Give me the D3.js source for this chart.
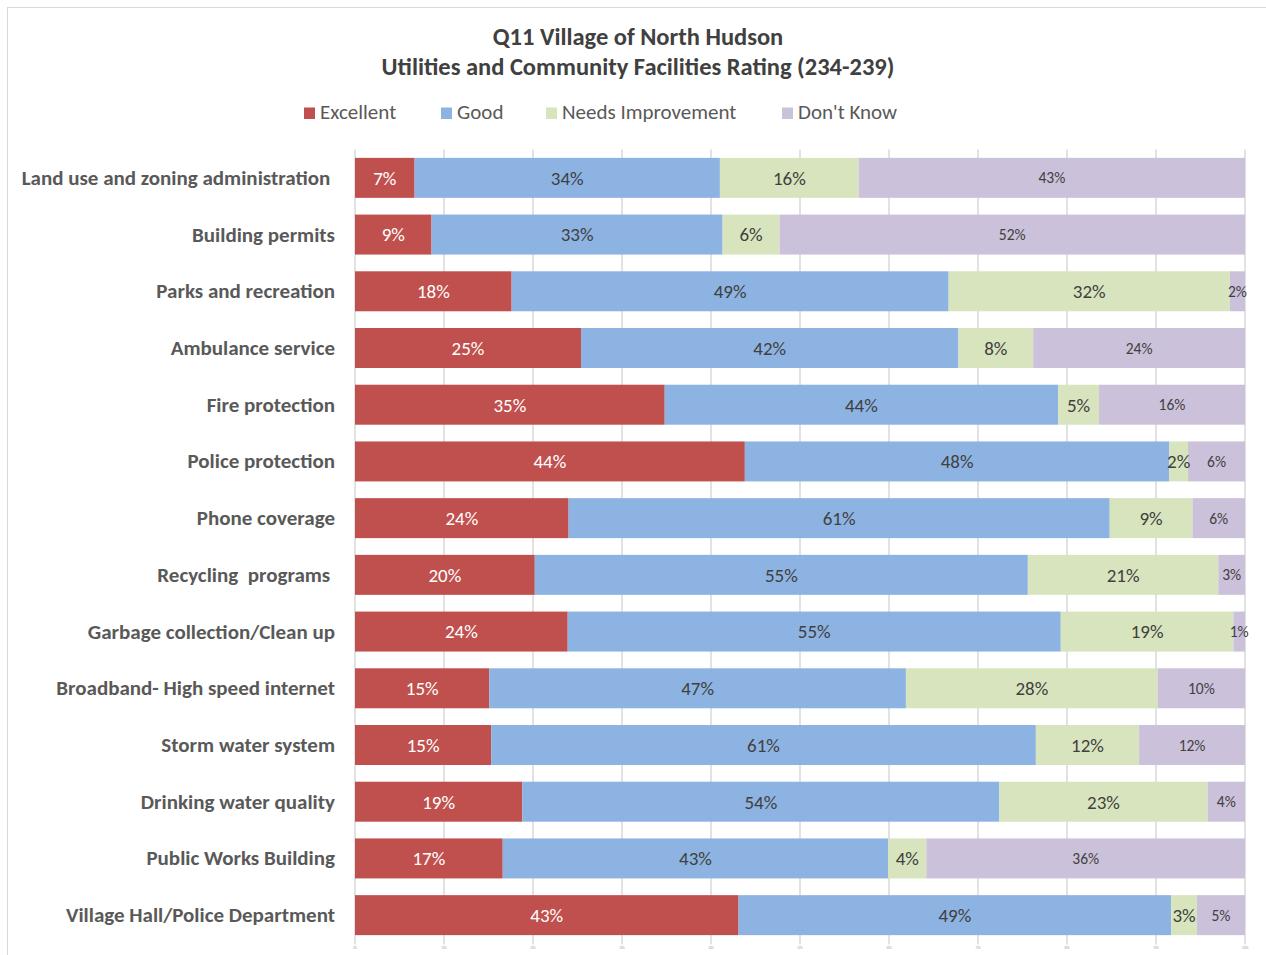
<!DOCTYPE html>
<html><head><meta charset="utf-8">
<script src="https://cdn.jsdelivr.net/npm/d3@7"></script>
<style>
body{margin:0;background:#fff;}
svg{display:block;font-family:Carlito,Calibri,Lato,"Liberation Sans",sans-serif;}
text{white-space:pre;}
</style></head>
<body>
<svg id="chart" width="1266" height="955"></svg>
<script>
const titleLines = ["Q11 Village of North Hudson", "Utilities and Community Facilities Rating (234-239)"];
const categories = ["Land use and zoning administration ","Building permits","Parks and recreation","Ambulance service","Fire protection","Police protection","Phone coverage","Recycling  programs ","Garbage collection/Clean up","Broadband- High speed internet","Storm water system","Drinking water quality","Public Works Building","Village Hall/Police Department"];
const seriesNames = ["Excellent","Good","Needs Improvement","Don't Know"];
const excellent = [6.7, 8.6, 17.6, 25.4, 34.8, 43.8, 24.0, 20.2, 23.9, 15.1, 15.3, 18.8, 16.6, 43.1];
const good      = [34.3, 32.7, 49.1, 42.4, 44.2, 47.7, 60.8, 55.4, 55.4, 46.8, 61.2, 53.6, 43.3, 48.6];
const needsImp  = [15.6, 6.4, 31.6, 8.4, 4.6, 2.1, 9.3, 21.4, 19.4, 28.3, 11.6, 23.4, 4.3, 2.9];
const dontKnow  = [43.4, 52.3, 1.7, 23.8, 16.4, 6.4, 5.9, 3.0, 1.3, 9.8, 11.9, 4.2, 35.8, 5.4];
const tickLabels = ["0%","10%","20%","30%","40%","50%","60%","70%","80%","90%","100%"];
const colors = ["#C0504D","#8DB3E2","#D7E4BD","#CCC1DA"];

const rows = categories.map((c,i)=>({cat:c, "Excellent":excellent[i], "Good":good[i], "Needs Improvement":needsImp[i], "Don't Know":dontKnow[i]}));
const stacked = d3.stack().keys(seriesNames)(rows);

const svg = d3.select("#chart");
// chart border
svg.append("rect").attr("x",7.5).attr("y",7.5).attr("width",1266).attr("height",960)
  .attr("fill","none").attr("stroke","#d9d9d9").attr("stroke-width",1);

const L=355, R=1245, T=149.5, B=943.5;
const x = d3.scaleLinear().domain([0,100]).range([L,R]);
const y = d3.scaleBand().domain(categories).range([T,B]).paddingInner(0.295).paddingOuter(0.1475);

// titles
svg.append("g").selectAll("text").data(titleLines).join("text")
  .attr("x",638).attr("y",(d,i)=>45+i*30).attr("text-anchor","middle")
  .attr("font-size",24.5).attr("font-weight","bold").attr("fill","#404040").text(d=>d);

// legend
const legendX = [304, 441, 546, 782];
const lg = svg.append("g").selectAll("g").data(seriesNames).join("g")
  .attr("transform",(d,i)=>`translate(${legendX[i]},119)`);
lg.append("rect").attr("x",0).attr("y",-11.5).attr("width",11).attr("height",11.5).attr("fill",(d,i)=>colors[i]);
lg.append("text").attr("x",16).attr("y",0)
  .attr("font-size",21).attr("fill","#595959").text(d=>d);

// gridlines
svg.append("g").selectAll("line").data(d3.range(0,101,10)).join("line")
  .attr("x1",d=>x(d)).attr("x2",d=>x(d)).attr("y1",T).attr("y2",B+1)
  .attr("stroke","#d9d9d9").attr("stroke-width",1.5);

// bars
const sg = svg.append("g").selectAll("g").data(stacked).join("g").attr("fill",(d,i)=>colors[i]);
sg.selectAll("rect").data(d=>d).join("rect")
  .attr("x",d=>x(d[0])).attr("width",d=>x(d[1])-x(d[0]))
  .attr("y",d=>y(d.data.cat)).attr("height",y.bandwidth());

// value labels
stacked.forEach((s,si)=>{
  svg.append("g").selectAll("text").data(s).join("text")
    .attr("x",d=>(x(d[0])+x(d[1]))/2)
    .attr("y",d=>y(d.data.cat)+y.bandwidth()/2)
    .attr("dy","0.36em").attr("text-anchor","middle")
    .attr("font-size", si===3 ? 15.5 : 19)
    .attr("fill", si===0 ? "#ffffff" : "#404040")
    .text(d=>Math.round(d[1]-d[0])+"%");
});

// category axis labels
svg.append("g").selectAll("text").data(categories).join("text")
  .attr("x",335).attr("y",d=>y(d)+y.bandwidth()/2).attr("dy","0.33em")
  .attr("text-anchor","end").attr("font-size",21).attr("font-weight","bold")
  .attr("fill","#595959").text(d=>d);

// tiny x tick labels
svg.append("g").selectAll("text").data(tickLabels).join("text")
  .attr("x",(d,i)=>x(i*10)).attr("y",949).attr("text-anchor","middle")
  .attr("font-size",3).attr("fill","#a6a6a6").text(d=>d);
</script>
</body></html>
